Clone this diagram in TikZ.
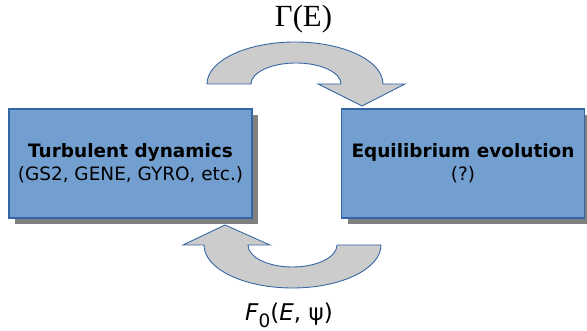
\documentclass[tikz,border=0pt]{standalone}
\usepackage{fontspec}
\setmainfont{DejaVu Sans}
\newfontfamily\labelserif{Liberation Serif}
\usepackage{tikz}
\usetikzlibrary{
    calc,
    shadows
}

\definecolor{boxblue}{HTML}{729FCF}
\definecolor{edgeblue}{HTML}{3465A4}
\definecolor{arrowgray}{HTML}{CCCCCC}
\definecolor{shadegray}{HTML}{808080}

\tikzset{
    blockbox/.style={draw=edgeblue, fill=boxblue, line width=0.6pt,
        minimum width=4.86cm, minimum height=2.18cm, align=center,
        font=\fontsize{10.5}{13.1}\selectfont,
        drop shadow={shadow xshift=0.12cm, shadow yshift=-0.12cm,
            fill=shadegray, opacity=1}},
    bentarrow/.style={draw=edgeblue, fill=arrowgray, line width=0.5pt}
}

\begin{document}
\begin{tikzpicture}[scale=1]

\useasboundingbox (0,0) rectangle (11.74,6.62);

% Boxes
\node[blockbox] (turb) at (2.61,3.35)
    {\textbf{Turbulent dynamics}\\(GS2, GENE, GYRO, etc.)};
\node[blockbox] (equil) at (9.26,3.35)
    {\textbf{Equilibrium evolution}\\(?)};

% Upper arrow
\draw[bentarrow] (4.14,4.94)
    arc[start angle=180, end angle=0, x radius=1.76, y radius=0.84]
    -- (8.10,4.94) -- (7.24,4.50) -- (6.36,4.94) -- (6.82,4.94)
    arc[start angle=0, end angle=180, x radius=0.90, y radius=0.42]
    -- cycle;

% Lower arrow
\draw[bentarrow] (7.62,1.72)
    arc[start angle=0, end angle=-180, x radius=1.77, y radius=0.86]
    -- (3.66,1.72) -- (4.50,2.12) -- (5.40,1.72) -- (4.96,1.72)
    arc[start angle=180, end angle=360, x radius=0.89, y radius=0.44]
    -- cycle;

% Labels
\node[anchor=base, font=\labelserif\fontsize{17.5}{20}\selectfont]
    (gammalabel) at (6.07,6.08) {Γ(E)};
\node[anchor=base, font=\fontsize{13.1}{15}\selectfont]
    (flabel) at (5.78,0.2)
    {\textit{F}\raisebox{-0.3em}{\fontsize{10.5}{12}\selectfont 0}(\textit{E}, ψ)};

\end{tikzpicture}
\end{document}
